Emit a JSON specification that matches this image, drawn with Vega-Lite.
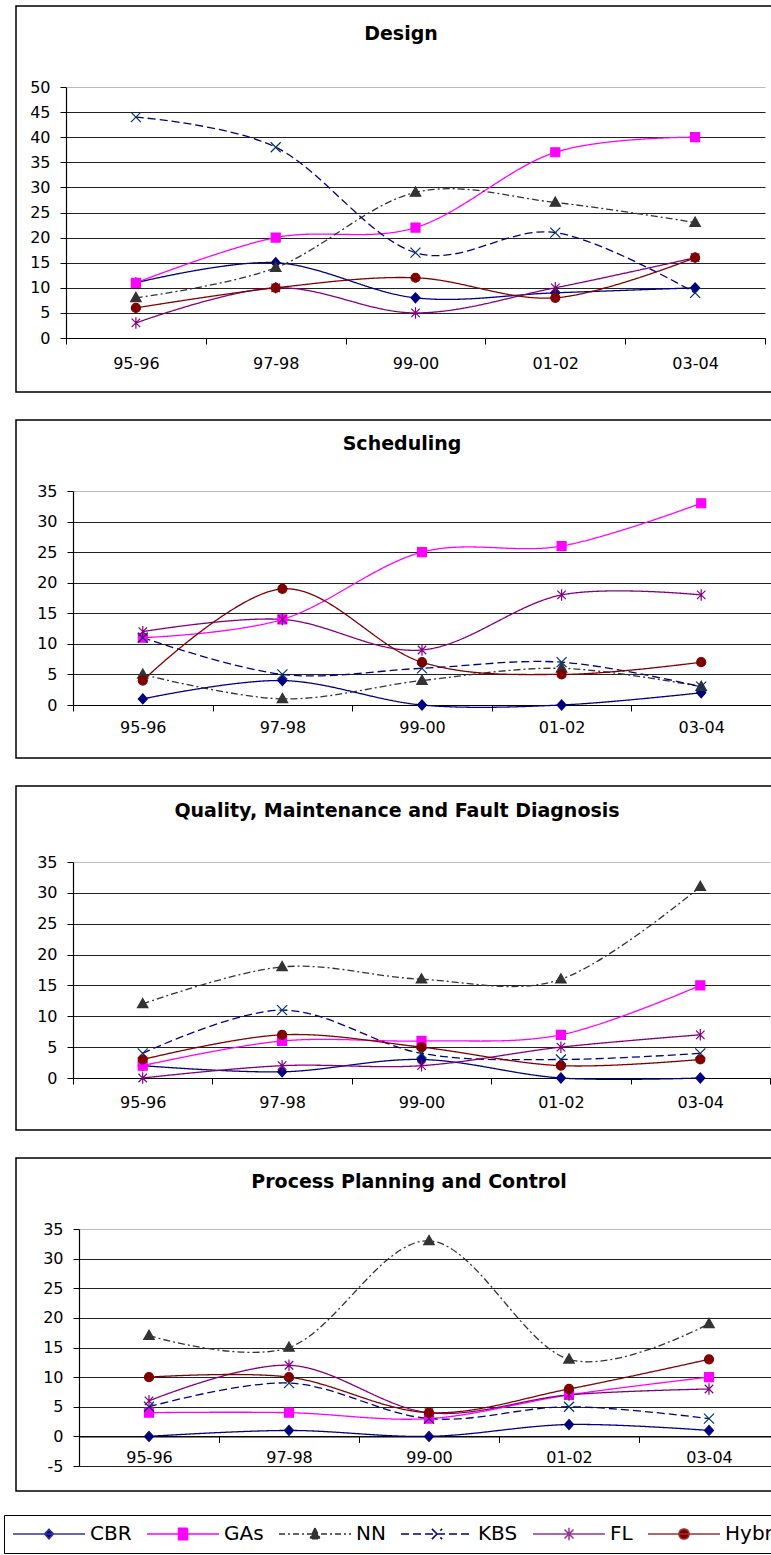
{
  "$schema": "https://vega.github.io/schema/vega-lite/v6.json",
  "background": "white",
  "padding": {"left": 2, "top": 5, "right": 0, "bottom": 0},
  "spacing": 26,
  "datasets": {
    "design": [
      {"period": "95-96", "series": "CBR", "value": 11}, {"period": "97-98", "series": "CBR", "value": 15}, {"period": "99-00", "series": "CBR", "value": 8}, {"period": "01-02", "series": "CBR", "value": 9}, {"period": "03-04", "series": "CBR", "value": 10},
      {"period": "95-96", "series": "GAs", "value": 11}, {"period": "97-98", "series": "GAs", "value": 20}, {"period": "99-00", "series": "GAs", "value": 22}, {"period": "01-02", "series": "GAs", "value": 37}, {"period": "03-04", "series": "GAs", "value": 40},
      {"period": "95-96", "series": "NN", "value": 8}, {"period": "97-98", "series": "NN", "value": 14}, {"period": "99-00", "series": "NN", "value": 29}, {"period": "01-02", "series": "NN", "value": 27}, {"period": "03-04", "series": "NN", "value": 23},
      {"period": "95-96", "series": "KBS", "value": 44}, {"period": "97-98", "series": "KBS", "value": 38}, {"period": "99-00", "series": "KBS", "value": 17}, {"period": "01-02", "series": "KBS", "value": 21}, {"period": "03-04", "series": "KBS", "value": 9},
      {"period": "95-96", "series": "FL", "value": 3}, {"period": "97-98", "series": "FL", "value": 10}, {"period": "99-00", "series": "FL", "value": 5}, {"period": "01-02", "series": "FL", "value": 10}, {"period": "03-04", "series": "FL", "value": 16},
      {"period": "95-96", "series": "Hybrid", "value": 6}, {"period": "97-98", "series": "Hybrid", "value": 10}, {"period": "99-00", "series": "Hybrid", "value": 12}, {"period": "01-02", "series": "Hybrid", "value": 8}, {"period": "03-04", "series": "Hybrid", "value": 16}
    ],
    "sched": [
      {"period": "95-96", "series": "CBR", "value": 1}, {"period": "97-98", "series": "CBR", "value": 4}, {"period": "99-00", "series": "CBR", "value": 0}, {"period": "01-02", "series": "CBR", "value": 0}, {"period": "03-04", "series": "CBR", "value": 2},
      {"period": "95-96", "series": "GAs", "value": 11}, {"period": "97-98", "series": "GAs", "value": 14}, {"period": "99-00", "series": "GAs", "value": 25}, {"period": "01-02", "series": "GAs", "value": 26}, {"period": "03-04", "series": "GAs", "value": 33},
      {"period": "95-96", "series": "NN", "value": 5}, {"period": "97-98", "series": "NN", "value": 1}, {"period": "99-00", "series": "NN", "value": 4}, {"period": "01-02", "series": "NN", "value": 6}, {"period": "03-04", "series": "NN", "value": 3},
      {"period": "95-96", "series": "KBS", "value": 11}, {"period": "97-98", "series": "KBS", "value": 5}, {"period": "99-00", "series": "KBS", "value": 6}, {"period": "01-02", "series": "KBS", "value": 7}, {"period": "03-04", "series": "KBS", "value": 3},
      {"period": "95-96", "series": "FL", "value": 12}, {"period": "97-98", "series": "FL", "value": 14}, {"period": "99-00", "series": "FL", "value": 9}, {"period": "01-02", "series": "FL", "value": 18}, {"period": "03-04", "series": "FL", "value": 18},
      {"period": "95-96", "series": "Hybrid", "value": 4}, {"period": "97-98", "series": "Hybrid", "value": 19}, {"period": "99-00", "series": "Hybrid", "value": 7}, {"period": "01-02", "series": "Hybrid", "value": 5}, {"period": "03-04", "series": "Hybrid", "value": 7}
    ],
    "quality": [
      {"period": "95-96", "series": "CBR", "value": 2}, {"period": "97-98", "series": "CBR", "value": 1}, {"period": "99-00", "series": "CBR", "value": 3}, {"period": "01-02", "series": "CBR", "value": 0}, {"period": "03-04", "series": "CBR", "value": 0},
      {"period": "95-96", "series": "GAs", "value": 2}, {"period": "97-98", "series": "GAs", "value": 6}, {"period": "99-00", "series": "GAs", "value": 6}, {"period": "01-02", "series": "GAs", "value": 7}, {"period": "03-04", "series": "GAs", "value": 15},
      {"period": "95-96", "series": "NN", "value": 12}, {"period": "97-98", "series": "NN", "value": 18}, {"period": "99-00", "series": "NN", "value": 16}, {"period": "01-02", "series": "NN", "value": 16}, {"period": "03-04", "series": "NN", "value": 31},
      {"period": "95-96", "series": "KBS", "value": 4}, {"period": "97-98", "series": "KBS", "value": 11}, {"period": "99-00", "series": "KBS", "value": 4}, {"period": "01-02", "series": "KBS", "value": 3}, {"period": "03-04", "series": "KBS", "value": 4},
      {"period": "95-96", "series": "FL", "value": 0}, {"period": "97-98", "series": "FL", "value": 2}, {"period": "99-00", "series": "FL", "value": 2}, {"period": "01-02", "series": "FL", "value": 5}, {"period": "03-04", "series": "FL", "value": 7},
      {"period": "95-96", "series": "Hybrid", "value": 3}, {"period": "97-98", "series": "Hybrid", "value": 7}, {"period": "99-00", "series": "Hybrid", "value": 5}, {"period": "01-02", "series": "Hybrid", "value": 2}, {"period": "03-04", "series": "Hybrid", "value": 3}
    ],
    "process": [
      {"period": "95-96", "series": "CBR", "value": 0}, {"period": "97-98", "series": "CBR", "value": 1}, {"period": "99-00", "series": "CBR", "value": 0}, {"period": "01-02", "series": "CBR", "value": 2}, {"period": "03-04", "series": "CBR", "value": 1},
      {"period": "95-96", "series": "GAs", "value": 4}, {"period": "97-98", "series": "GAs", "value": 4}, {"period": "99-00", "series": "GAs", "value": 3}, {"period": "01-02", "series": "GAs", "value": 7}, {"period": "03-04", "series": "GAs", "value": 10},
      {"period": "95-96", "series": "NN", "value": 17}, {"period": "97-98", "series": "NN", "value": 15}, {"period": "99-00", "series": "NN", "value": 33}, {"period": "01-02", "series": "NN", "value": 13}, {"period": "03-04", "series": "NN", "value": 19},
      {"period": "95-96", "series": "KBS", "value": 5}, {"period": "97-98", "series": "KBS", "value": 9}, {"period": "99-00", "series": "KBS", "value": 3}, {"period": "01-02", "series": "KBS", "value": 5}, {"period": "03-04", "series": "KBS", "value": 3},
      {"period": "95-96", "series": "FL", "value": 6}, {"period": "97-98", "series": "FL", "value": 12}, {"period": "99-00", "series": "FL", "value": 4}, {"period": "01-02", "series": "FL", "value": 7}, {"period": "03-04", "series": "FL", "value": 8},
      {"period": "95-96", "series": "Hybrid", "value": 10}, {"period": "97-98", "series": "Hybrid", "value": 10}, {"period": "99-00", "series": "Hybrid", "value": 4}, {"period": "01-02", "series": "Hybrid", "value": 8}, {"period": "03-04", "series": "Hybrid", "value": 13}
    ]
  },
  "resolve": {"scale": {"x": "independent", "y": "independent", "color": "independent", "stroke": "independent", "shape": "independent", "strokeDash": "independent"}},
  "vconcat": [
    {
      "data": {"name": "design"},
      "width": 770, "height": 386,
      "title": {"text": "Design", "offset": -47, "baseline": "middle", "anchor": "middle", "frame": "group"},
      "layer": [
        {
          "mark": {"type": "line", "interpolate": "cardinal", "strokeWidth": 1.3},
          "encoding": {
            "x": {"field": "period", "type": "nominal", "sort": ["95-96", "97-98", "99-00", "01-02", "03-04"], "scale": {"type": "band", "range": [50, 749], "paddingInner": 0, "paddingOuter": 0}, "axis": {"orient": "bottom", "offset": -54, "labelPadding": 19}},
            "y": {"field": "value", "type": "quantitative", "scale": {"domain": [0, 50], "range": [332, 81], "nice": false, "zero": false}, "axis": {"offset": -50, "values": [0, 5, 10, 15, 20, 25, 30, 35, 40, 45, 50], "labelOverlap": false, "gridColor": {"condition": {"test": "datum.value === 50", "value": "#bbbbbb"}, "value": "#222222"}}},
            "color": {"field": "series", "type": "nominal", "scale": {"domain": ["CBR", "GAs", "NN", "KBS", "FL", "Hybrid"], "range": ["#000080", "#ff00ff", "#333333", "#000080", "#800080", "#800000"]}, "legend": null},
            "strokeDash": {"field": "series", "type": "nominal", "scale": {"domain": ["CBR", "GAs", "NN", "KBS", "FL", "Hybrid"], "range": [[1, 0], [1, 0], [7, 3, 2, 3], [8, 4], [1, 0], [1, 0]]}, "legend": null}
          }
        },
        {
          "mark": {"type": "point", "filled": true, "opacity": 1, "size": 100, "strokeWidth": 1.2},
          "encoding": {
            "x": {"field": "period", "type": "nominal", "sort": ["95-96", "97-98", "99-00", "01-02", "03-04"], "scale": {"type": "band", "range": [50, 749], "paddingInner": 0, "paddingOuter": 0}, "axis": {"orient": "bottom", "offset": -54, "labelPadding": 19}},
            "y": {"field": "value", "type": "quantitative", "scale": {"domain": [0, 50], "range": [332, 81], "nice": false, "zero": false}, "axis": {"offset": -50, "values": [0, 5, 10, 15, 20, 25, 30, 35, 40, 45, 50], "labelOverlap": false, "gridColor": {"condition": {"test": "datum.value === 50", "value": "#bbbbbb"}, "value": "#222222"}}},
            "color": {"field": "series", "type": "nominal", "scale": {"domain": ["CBR", "GAs", "NN", "KBS", "FL", "Hybrid"], "range": ["#000080", "#ff00ff", "#333333", "#000080", "#800080", "#800000"]}, "legend": null},
            "stroke": {"field": "series", "type": "nominal", "scale": {"domain": ["CBR", "GAs", "NN", "KBS", "FL", "Hybrid"], "range": ["#000080", "#ff00ff", "#333333", "#003366", "#800080", "#800000"]}, "legend": null},
            "shape": {"field": "series", "type": "nominal", "scale": {"domain": ["CBR", "GAs", "NN", "KBS", "FL", "Hybrid"], "range": ["M0,-1L0.9,0L0,1L-0.9,0Z", "M-0.9,-0.9H0.9V0.9H-0.9Z", "M0,-1.1L1.05,0.75H-1.05Z", "M-1,-1L1,1M-1,1L1,-1", "M-0.85,-0.85L0.85,0.85M-0.85,0.85L0.85,-0.85M0,-1.15V1.15", "M-0.9,0A0.9,0.9,0,1,0,0.9,0A0.9,0.9,0,1,0,-0.9,0Z"]}, "legend": null}
          }
        }
      ]
    },
    {
      "data": {"name": "sched"},
      "width": 772, "height": 338,
      "title": {"text": "Scheduling", "offset": -43, "baseline": "middle", "anchor": "middle", "frame": "group"},
      "layer": [
        {
          "mark": {"type": "line", "interpolate": "cardinal", "strokeWidth": 1.3},
          "encoding": {
            "x": {"field": "period", "type": "nominal", "sort": ["95-96", "97-98", "99-00", "01-02", "03-04"], "scale": {"type": "band", "range": [57, 755], "paddingInner": 0, "paddingOuter": 0}, "axis": {"orient": "bottom", "offset": -53, "labelPadding": 16}},
            "y": {"field": "value", "type": "quantitative", "scale": {"domain": [0, 35], "range": [285, 71], "nice": false, "zero": false}, "axis": {"offset": -57, "values": [0, 5, 10, 15, 20, 25, 30, 35], "labelOverlap": false, "gridColor": {"condition": {"test": "datum.value === 35", "value": "#bbbbbb"}, "value": "#222222"}}},
            "color": {"field": "series", "type": "nominal", "scale": {"domain": ["CBR", "GAs", "NN", "KBS", "FL", "Hybrid"], "range": ["#000080", "#ff00ff", "#333333", "#000080", "#800080", "#800000"]}, "legend": null},
            "strokeDash": {"field": "series", "type": "nominal", "scale": {"domain": ["CBR", "GAs", "NN", "KBS", "FL", "Hybrid"], "range": [[1, 0], [1, 0], [7, 3, 2, 3], [8, 4], [1, 0], [1, 0]]}, "legend": null}
          }
        },
        {
          "mark": {"type": "point", "filled": true, "opacity": 1, "size": 100, "strokeWidth": 1.2},
          "encoding": {
            "x": {"field": "period", "type": "nominal", "sort": ["95-96", "97-98", "99-00", "01-02", "03-04"], "scale": {"type": "band", "range": [57, 755], "paddingInner": 0, "paddingOuter": 0}, "axis": {"orient": "bottom", "offset": -53, "labelPadding": 16}},
            "y": {"field": "value", "type": "quantitative", "scale": {"domain": [0, 35], "range": [285, 71], "nice": false, "zero": false}, "axis": {"offset": -57, "values": [0, 5, 10, 15, 20, 25, 30, 35], "labelOverlap": false, "gridColor": {"condition": {"test": "datum.value === 35", "value": "#bbbbbb"}, "value": "#222222"}}},
            "color": {"field": "series", "type": "nominal", "scale": {"domain": ["CBR", "GAs", "NN", "KBS", "FL", "Hybrid"], "range": ["#000080", "#ff00ff", "#333333", "#000080", "#800080", "#800000"]}, "legend": null},
            "stroke": {"field": "series", "type": "nominal", "scale": {"domain": ["CBR", "GAs", "NN", "KBS", "FL", "Hybrid"], "range": ["#000080", "#ff00ff", "#333333", "#003366", "#800080", "#800000"]}, "legend": null},
            "shape": {"field": "series", "type": "nominal", "scale": {"domain": ["CBR", "GAs", "NN", "KBS", "FL", "Hybrid"], "range": ["M0,-1L0.9,0L0,1L-0.9,0Z", "M-0.9,-0.9H0.9V0.9H-0.9Z", "M0,-1.1L1.05,0.75H-1.05Z", "M-1,-1L1,1M-1,1L1,-1", "M-0.85,-0.85L0.85,0.85M-0.85,0.85L0.85,-0.85M0,-1.15V1.15", "M-0.9,0A0.9,0.9,0,1,0,0.9,0A0.9,0.9,0,1,0,-0.9,0Z"]}, "legend": null}
          }
        }
      ]
    },
    {
      "data": {"name": "quality"},
      "width": 762, "height": 344,
      "title": {"text": "Quality, Maintenance and Fault Diagnosis", "offset": -44, "baseline": "middle", "anchor": "middle", "frame": "group"},
      "layer": [
        {
          "mark": {"type": "line", "interpolate": "cardinal", "strokeWidth": 1.3},
          "encoding": {
            "x": {"field": "period", "type": "nominal", "sort": ["95-96", "97-98", "99-00", "01-02", "03-04"], "scale": {"type": "band", "range": [57, 754], "paddingInner": 0, "paddingOuter": 0}, "axis": {"orient": "bottom", "offset": -52, "labelPadding": 18}},
            "y": {"field": "value", "type": "quantitative", "scale": {"domain": [0, 35], "range": [292, 76], "nice": false, "zero": false}, "axis": {"offset": -57, "values": [0, 5, 10, 15, 20, 25, 30, 35], "labelOverlap": false, "gridColor": {"condition": {"test": "datum.value === 35", "value": "#bbbbbb"}, "value": "#222222"}}},
            "color": {"field": "series", "type": "nominal", "scale": {"domain": ["CBR", "GAs", "NN", "KBS", "FL", "Hybrid"], "range": ["#000080", "#ff00ff", "#333333", "#000080", "#800080", "#800000"]}, "legend": null},
            "strokeDash": {"field": "series", "type": "nominal", "scale": {"domain": ["CBR", "GAs", "NN", "KBS", "FL", "Hybrid"], "range": [[1, 0], [1, 0], [7, 3, 2, 3], [8, 4], [1, 0], [1, 0]]}, "legend": null}
          }
        },
        {
          "mark": {"type": "point", "filled": true, "opacity": 1, "size": 100, "strokeWidth": 1.2},
          "encoding": {
            "x": {"field": "period", "type": "nominal", "sort": ["95-96", "97-98", "99-00", "01-02", "03-04"], "scale": {"type": "band", "range": [57, 754], "paddingInner": 0, "paddingOuter": 0}, "axis": {"orient": "bottom", "offset": -52, "labelPadding": 18}},
            "y": {"field": "value", "type": "quantitative", "scale": {"domain": [0, 35], "range": [292, 76], "nice": false, "zero": false}, "axis": {"offset": -57, "values": [0, 5, 10, 15, 20, 25, 30, 35], "labelOverlap": false, "gridColor": {"condition": {"test": "datum.value === 35", "value": "#bbbbbb"}, "value": "#222222"}}},
            "color": {"field": "series", "type": "nominal", "scale": {"domain": ["CBR", "GAs", "NN", "KBS", "FL", "Hybrid"], "range": ["#000080", "#ff00ff", "#333333", "#000080", "#800080", "#800000"]}, "legend": null},
            "stroke": {"field": "series", "type": "nominal", "scale": {"domain": ["CBR", "GAs", "NN", "KBS", "FL", "Hybrid"], "range": ["#000080", "#ff00ff", "#333333", "#003366", "#800080", "#800000"]}, "legend": null},
            "shape": {"field": "series", "type": "nominal", "scale": {"domain": ["CBR", "GAs", "NN", "KBS", "FL", "Hybrid"], "range": ["M0,-1L0.9,0L0,1L-0.9,0Z", "M-0.9,-0.9H0.9V0.9H-0.9Z", "M0,-1.1L1.05,0.75H-1.05Z", "M-1,-1L1,1M-1,1L1,-1", "M-0.85,-0.85L0.85,0.85M-0.85,0.85L0.85,-0.85M0,-1.15V1.15", "M-0.9,0A0.9,0.9,0,1,0,0.9,0A0.9,0.9,0,1,0,-0.9,0Z"]}, "legend": null}
          }
        }
      ]
    },
    {
      "data": {"name": "process"},
      "width": 786, "height": 333,
      "title": {"text": "Process Planning and Control", "offset": -43, "baseline": "middle", "anchor": "middle", "frame": "group"},
      "resolve": {"scale": {"color": "independent", "stroke": "independent", "shape": "independent", "strokeDash": "independent"}},
      "layer": [
        {
          "mark": {"type": "line", "interpolate": "cardinal", "strokeWidth": 1.3},
          "encoding": {
            "x": {"field": "period", "type": "nominal", "sort": ["95-96", "97-98", "99-00", "01-02", "03-04"], "scale": {"type": "band", "range": [63, 763], "paddingInner": 0, "paddingOuter": 0}, "axis": {"orient": "bottom", "offset": -54.6, "labelPadding": 15}},
            "y": {"field": "value", "type": "quantitative", "scale": {"domain": [-5, 35], "range": [308, 71], "nice": false, "zero": false}, "axis": {"offset": -63, "values": [-5, 0, 5, 10, 15, 20, 25, 30, 35], "labelOverlap": false, "labelExpr": "'' + datum.value", "gridColor": {"condition": {"test": "datum.value === 35", "value": "#bbbbbb"}, "value": "#222222"}}},
            "color": {"field": "series", "type": "nominal", "scale": {"domain": ["CBR", "GAs", "NN", "KBS", "FL", "Hybrid"], "range": ["#000080", "#ff00ff", "#333333", "#000080", "#800080", "#800000"]}, "legend": null},
            "strokeDash": {"field": "series", "type": "nominal", "scale": {"domain": ["CBR", "GAs", "NN", "KBS", "FL", "Hybrid"], "range": [[1, 0], [1, 0], [7, 3, 2, 3], [8, 4], [1, 0], [1, 0]]}, "legend": null}
          }
        },
        {
          "mark": {"type": "point", "filled": true, "opacity": 1, "size": 100, "strokeWidth": 1.2},
          "encoding": {
            "x": {"field": "period", "type": "nominal", "sort": ["95-96", "97-98", "99-00", "01-02", "03-04"], "scale": {"type": "band", "range": [63, 763], "paddingInner": 0, "paddingOuter": 0}, "axis": {"orient": "bottom", "offset": -54.6, "labelPadding": 15}},
            "y": {"field": "value", "type": "quantitative", "scale": {"domain": [-5, 35], "range": [308, 71], "nice": false, "zero": false}, "axis": {"offset": -63, "values": [-5, 0, 5, 10, 15, 20, 25, 30, 35], "labelOverlap": false, "labelExpr": "'' + datum.value", "gridColor": {"condition": {"test": "datum.value === 35", "value": "#bbbbbb"}, "value": "#222222"}}},
            "color": {"field": "series", "type": "nominal", "scale": {"domain": ["CBR", "GAs", "NN", "KBS", "FL", "Hybrid"], "range": ["#000080", "#ff00ff", "#333333", "#000080", "#800080", "#800000"]}, "legend": null},
            "stroke": {"field": "series", "type": "nominal", "scale": {"domain": ["CBR", "GAs", "NN", "KBS", "FL", "Hybrid"], "range": ["#000080", "#ff00ff", "#333333", "#003366", "#800080", "#800000"]}, "legend": null},
            "shape": {"field": "series", "type": "nominal", "scale": {"domain": ["CBR", "GAs", "NN", "KBS", "FL", "Hybrid"], "range": ["M0,-1L0.9,0L0,1L-0.9,0Z", "M-0.9,-0.9H0.9V0.9H-0.9Z", "M0,-1.1L1.05,0.75H-1.05Z", "M-1,-1L1,1M-1,1L1,-1", "M-0.85,-0.85L0.85,0.85M-0.85,0.85L0.85,-0.85M0,-1.15V1.15", "M-0.9,0A0.9,0.9,0,1,0,0.9,0A0.9,0.9,0,1,0,-0.9,0Z"]}, "legend": null}
          }
        },
        {
          "transform": [{"filter": "false"}],
          "mark": {"type": "point", "filled": true, "opacity": 1, "size": 144, "strokeWidth": 1.5},
          "encoding": {
            "x": {"field": "period", "type": "nominal", "sort": ["95-96", "97-98", "99-00", "01-02", "03-04"], "scale": {"type": "band", "range": [63, 763], "paddingInner": 0, "paddingOuter": 0}, "axis": {"orient": "bottom", "offset": -54.6, "labelPadding": 15}},
            "y": {"field": "value", "type": "quantitative", "scale": {"domain": [-5, 35], "range": [308, 71], "nice": false, "zero": false}, "axis": {"offset": -63, "values": [-5, 0, 5, 10, 15, 20, 25, 30, 35], "labelOverlap": false, "labelExpr": "'' + datum.value", "gridColor": {"condition": {"test": "datum.value === 35", "value": "#bbbbbb"}, "value": "#222222"}}},
            "color": {"field": "series", "type": "nominal", "scale": {"domain": ["CBR", "GAs", "NN", "KBS", "FL", "Hybrid"], "range": ["#000080", "#ff00ff", "#333333", "#003366", "#800080", "#800000"]},
              "legend": {"title": null, "orient": "none", "legendX": -12, "legendY": 357, "direction": "horizontal", "symbolSize": 144, "symbolStrokeWidth": 1.5, "symbolOffset": 26, "labelOffset": 31, "labelFont": "DejaVu Sans", "labelFontSize": 20, "labelColor": "#000000", "columnPadding": 12, "padding": 9, "strokeColor": "#000000", "labelLimit": 0}},
            "stroke": {"field": "series", "type": "nominal", "scale": {"domain": ["CBR", "GAs", "NN", "KBS", "FL", "Hybrid"], "range": ["#333399", "#ff00ff", "#333333", "#000080", "#993399", "#993333"]},
              "legend": {"title": null, "orient": "none", "legendX": -12, "legendY": 357, "direction": "horizontal", "symbolSize": 144, "symbolStrokeWidth": 1.5, "symbolOffset": 26, "labelOffset": 31, "labelFont": "DejaVu Sans", "labelFontSize": 20, "labelColor": "#000000", "columnPadding": 12, "padding": 9, "strokeColor": "#000000", "labelLimit": 0}},
            "shape": {"field": "series", "type": "nominal", "scale": {"domain": ["CBR", "GAs", "NN", "KBS", "FL", "Hybrid"], "range": ["M-6,0H6M0,-0.8L0.75,0L0,0.8L-0.75,0Z", "M-6,0H6M-0.75,-0.95H0.75V0.95H-0.75Z", "M-6,0H6M0,-1L0.85,0.8H-0.85Z", "M-6,0H6M-0.85,-0.85L0.85,0.85M-0.85,0.85L0.85,-0.85", "M-6,0H6M-0.75,-0.75L0.75,0.75M-0.75,0.75L0.75,-0.75M0,-1.05V1.05", "M-6,0H6M-0.85,0A0.85,0.85,0,1,0,0.85,0A0.85,0.85,0,1,0,-0.85,0Z"]},
              "legend": {"title": null, "orient": "none", "legendX": -12, "legendY": 357, "direction": "horizontal", "symbolSize": 144, "symbolStrokeWidth": 1.5, "symbolOffset": 26, "labelOffset": 31, "labelFont": "DejaVu Sans", "labelFontSize": 20, "labelColor": "#000000", "columnPadding": 12, "padding": 9, "strokeColor": "#000000", "labelLimit": 0}},
            "strokeDash": {"field": "series", "type": "nominal", "scale": {"domain": ["CBR", "GAs", "NN", "KBS", "FL", "Hybrid"], "range": [[1, 0], [1, 0], [6, 3, 2, 3], [8, 4], [1, 0], [1, 0]]},
              "legend": {"title": null, "orient": "none", "legendX": -12, "legendY": 357, "direction": "horizontal", "symbolSize": 144, "symbolStrokeWidth": 1.5, "symbolOffset": 26, "labelOffset": 31, "labelFont": "DejaVu Sans", "labelFontSize": 20, "labelColor": "#000000", "columnPadding": 12, "padding": 9, "strokeColor": "#000000", "labelLimit": 0}}
          }
        }
      ]
    }
  ],
  "config": {
    "view": {"stroke": "#000000", "strokeWidth": 1.5},
    "title": {"font": "DejaVu Sans", "fontSize": 19, "fontWeight": "bold", "color": "#000000"},
    "axis": {"title": null, "labelFont": "DejaVu Sans", "labelFontSize": 16, "labelColor": "#000000", "tickColor": "#000000", "domainColor": "#000000", "tickSize": 6, "domainWidth": 1.2, "tickWidth": 1},
    "axisX": {"tickBand": "extent", "labelBaseline": "middle", "grid": false, "labelAngle": 0},
    "axisY": {"labelPadding": 10, "grid": true, "gridWidth": 1, "gridOpacity": 1}
  }
}
